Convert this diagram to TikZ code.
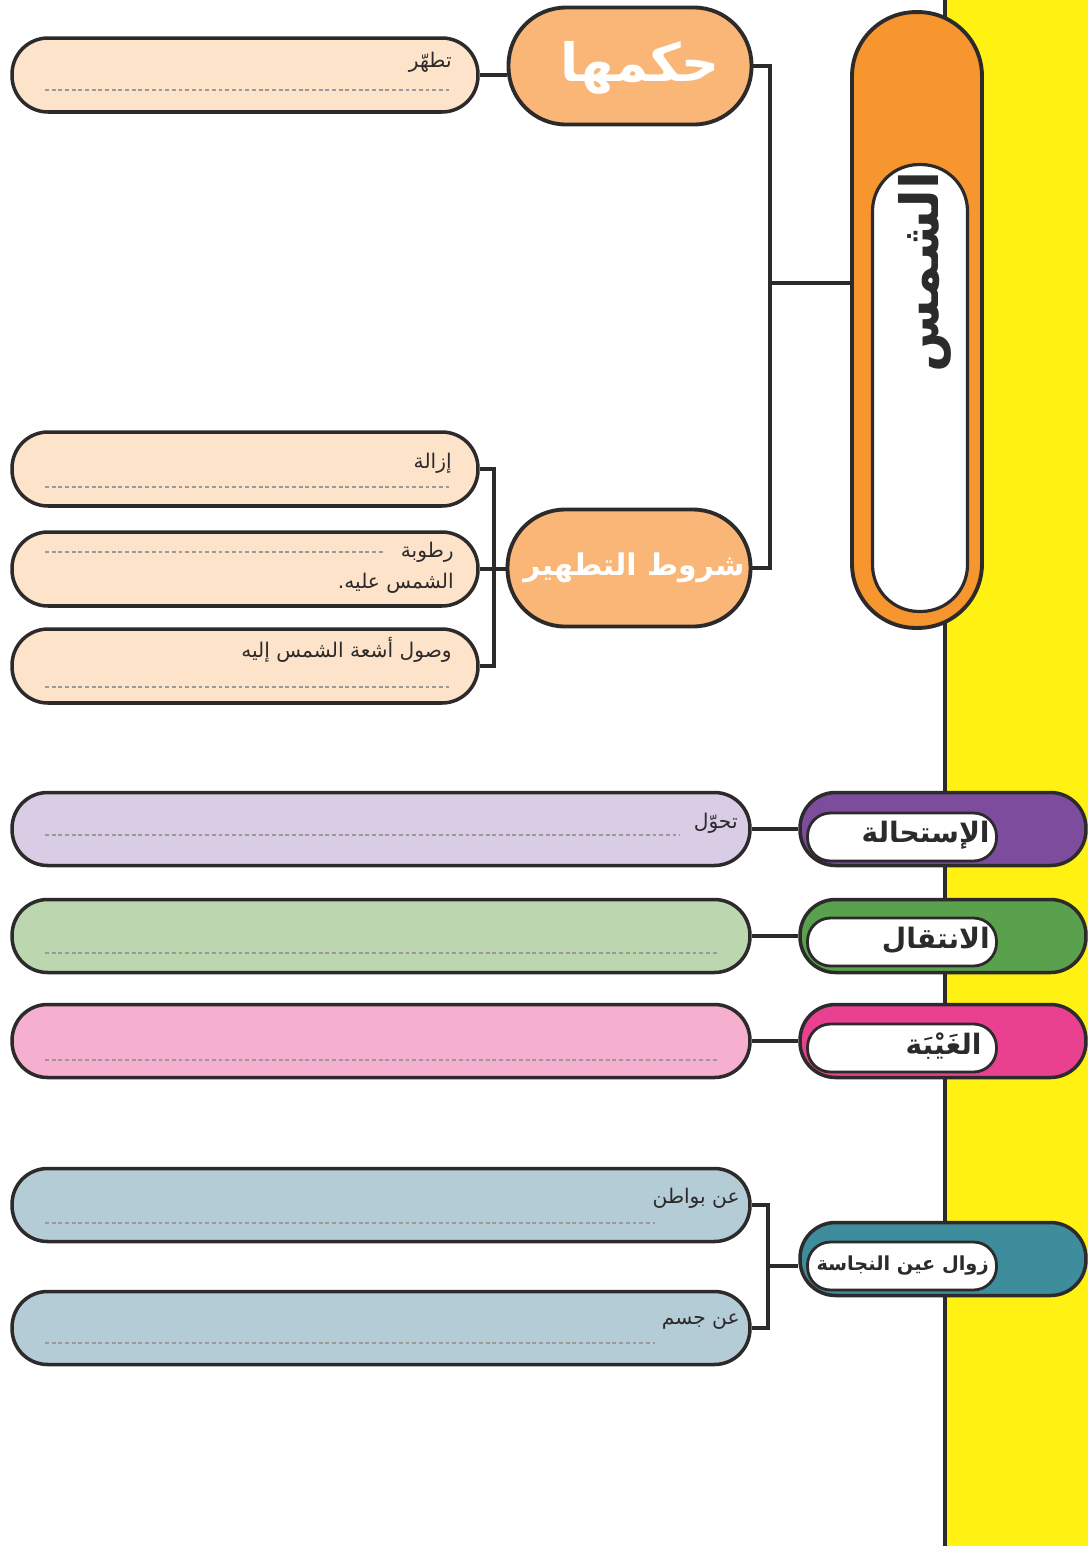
\documentclass[tikz,border=0pt]{standalone}
\usepackage{fontspec}
\newfontfamily\arabicfont[Script=Arabic]{DejaVu Sans}
\TeXXeTstate=1
\usetikzlibrary{positioning}

\definecolor{stripyellow}{HTML}{FFF212}
\definecolor{linec}{HTML}{2D2A2B}
\definecolor{peach}{HTML}{FDE3C9}
\definecolor{headorange}{HTML}{FAB676}
\definecolor{sunorange}{HTML}{F7952E}
\definecolor{purplec}{HTML}{7E4C9D}
\definecolor{lavender}{HTML}{D9CDE6}
\definecolor{greenc}{HTML}{59A14D}
\definecolor{lightgreen}{HTML}{BCD7AF}
\definecolor{pinkc}{HTML}{E9408F}
\definecolor{lightpink}{HTML}{F5B0CF}
\definecolor{tealc}{HTML}{3E8D9D}
\definecolor{lightteal}{HTML}{B4CCD5}
\definecolor{dashgrey}{HTML}{9A9A9A}

\newcommand{\artext}[1]{\beginR #1\endR}

\tikzset{
  ansbox/.style={draw=linec, line width=2pt, fill=peach, minimum width=9.32cm,
    minimum height=1.48cm, rounded corners=0.72cm, inner sep=0pt},
  longbox/.style={draw=linec, line width=2pt, minimum width=14.76cm,
    minimum height=1.46cm, rounded corners=0.71cm, inner sep=0pt},
  headnode/.style={draw=linec, line width=2.2pt, fill=headorange, minimum width=4.86cm,
    minimum height=2.34cm, rounded corners=1.15cm, inner sep=0pt},
  headtext/.style={inner sep=0pt, text=white, font=\arabicfont\bfseries\fontsize{30}{34}\selectfont},
  sidepill/.style={draw=linec, line width=2pt, minimum width=5.72cm,
    minimum height=1.46cm, rounded corners=0.71cm, inner sep=0pt},
  innerpill/.style={draw=linec, line width=1.6pt, fill=white, minimum width=3.78cm,
    minimum height=0.96cm, rounded corners=0.46cm, inner sep=0pt},
  sidetext/.style={inner sep=0pt, anchor=east, text=linec,
    font=\arabicfont\bfseries\fontsize{16}{19}\selectfont},
  anstext/.style={inner sep=0pt, anchor=east, text=linec,
    font=\arabicfont\fontsize{11.5}{14}\selectfont},
  dashline/.style={draw=dashgrey, line width=0.6pt, dash pattern=on 2.2pt off 1.6pt},
  link/.style={draw=linec, line width=1.8pt}
}

\begin{document}
\begin{tikzpicture}[x=0.02cm,y=-0.02cm]
\useasboundingbox (0,0) rectangle (1088,1546);

% yellow strip on the right
\fill[stripyellow] (945,0) rectangle (1088,1546);
\draw[line width=2.4pt, linec] (945,0) -- (945,1546);

% the sun
\node[draw=linec, line width=2.2pt, fill=sunorange, minimum width=2.6cm, minimum height=12.32cm,
  rounded corners=1.28cm, inner sep=0pt] (shams) at (917,320) {};
\node[draw=linec, line width=1.8pt, fill=white, minimum width=1.9cm, minimum height=8.94cm,
  rounded corners=0.93cm, inner sep=0pt] (shamsin) at (920,388) {};
\node[rotate=90, inner sep=0pt, text=linec, font=\arabicfont\bfseries\fontsize{30}{32}\selectfont]
  (shamslbl) at (925,272) {\artext{الشمس}};

% ruling and conditions
\node[headnode] (hukm) at (630,66) {};
\node[headtext] (hukmlbl) at (640,68) {\artext{حكمها}};
\node[headnode] (sharut) at (629,568) {};
\node[headtext, font=\arabicfont\bfseries\fontsize{17}{20}\selectfont] (sharutlbl) at (634,568)
  {\artext{شروط التطهير}};

\node[ansbox] (b_hukm) at (245,75) {};
\node[anstext] (t_hukm) at (452,62) {\artext{تطهّر}};
\draw[dashline] (45,90) -- (451,90);

\node[ansbox] (b_izala) at (245,469) {};
\node[anstext] (t_izala) at (452,463) {\artext{إزالة}};
\draw[dashline] (45,487) -- (451,487);

\node[ansbox] (b_rutuba) at (245,569) {};
\node[anstext] (t_rutuba) at (454,552) {\artext{رطوبة}};
\node[anstext] (t_alayh) at (454,583) {\artext{الشمس عليه.}};
\draw[dashline] (45,552) -- (385,552);

\node[ansbox] (b_wusul) at (245,666) {};
\node[anstext] (t_wusul) at (452,650) {\artext{وصول أشعة الشمس إليه}};
\draw[dashline] (45,687) -- (451,687);

\coordinate (trunk) at (770,283);
\coordinate (fork) at (494,569);
\draw[link] (hukm.east) -| (trunk) |- (sharut.east);
\draw[link] (trunk) -- (trunk -| shams.west);
\draw[link] (b_hukm.east) -- (b_hukm.east -| hukm.west);
\draw[link] (b_izala.east) -| (fork) |- (b_wusul.east);
\draw[link] (b_rutuba.east) -- (b_rutuba.east -| sharut.west);

% other ways of purification
\node[longbox, fill=lavender] (b_tahawwul) at (381,829) {};
\node[anstext] (t_tahawwul) at (738,823) {\artext{تحوّل}};
\draw[dashline] (45,835) -- (680,835);
\node[sidepill, fill=purplec] (istihala) at (943,829) {};
\node[innerpill] (istihalain) at (902,837) {};
\node[sidetext] (istihalalbl) at (990,835) {\artext{الإستحالة}};
\draw[link] (b_tahawwul.east) -- (istihala.west);

\node[longbox, fill=lightgreen] (b_intiqal) at (381,936) {};
\draw[dashline] (45,953) -- (718,953);
\node[sidepill, fill=greenc] (intiqal) at (943,936) {};
\node[innerpill] (intiqalin) at (902,942) {};
\node[sidetext] (intiqallbl) at (990,940) {\artext{الانتقال}};
\draw[link] (b_intiqal.east) -- (intiqal.west);

\node[longbox, fill=lightpink] (b_ghayba) at (381,1041) {};
\draw[dashline] (45,1060) -- (718,1060);
\node[sidepill, fill=pinkc] (ghayba) at (943,1041) {};
\node[innerpill] (ghaybain) at (902,1048) {};
\node[sidetext] (ghaybalbl) at (982,1046) {\artext{الغَيْبَة}};
\draw[link] (b_ghayba.east) -- (ghayba.west);

\node[longbox, fill=lightteal] (b_batin) at (381,1205) {};
\node[anstext] (t_batin) at (740,1198) {\artext{عن بواطن}};
\draw[dashline] (45,1223) -- (655,1223);
\node[longbox, fill=lightteal] (b_jism) at (381,1328) {};
\node[anstext] (t_jism) at (740,1322) {\artext{عن جسم}};
\draw[dashline] (45,1343) -- (655,1343);
\node[sidepill, fill=tealc] (zawal) at (943,1259) {};
\node[innerpill] (zawalin) at (902,1266) {};
\node[sidetext, font=\arabicfont\bfseries\fontsize{11}{13}\selectfont] (zawallbl) at (989,1265)
  {\artext{زوال عين النجاسة}};

\coordinate (fork2) at (768,1266);
\draw[link] (b_batin.east) -| (fork2) |- (b_jism.east);
\draw[link] (fork2) -- (fork2 -| zawal.west);
\end{tikzpicture}
\end{document}
